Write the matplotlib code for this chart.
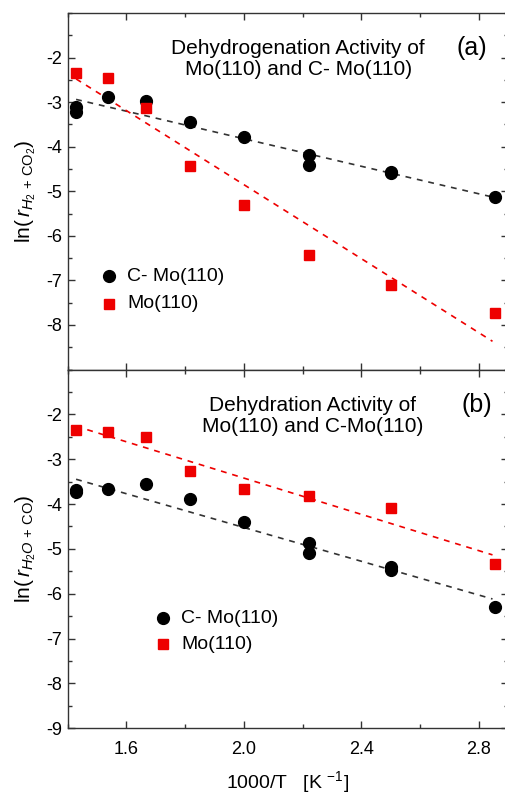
import numpy as np
import matplotlib
matplotlib.use("Agg")
import matplotlib.pyplot as plt
from matplotlib.ticker import MultipleLocator, FixedLocator

plt.rcParams['font.family'] = ['Liberation Sans', 'DejaVu Sans']
plt.rcParams['mathtext.fontset'] = 'custom'
plt.rcParams['mathtext.rm'] = 'Liberation Sans'
plt.rcParams['mathtext.it'] = 'Liberation Sans:italic'
plt.rcParams['axes.unicode_minus'] = False

# temperatures 700..350 K -> 1000/T
# (a) dehydrogenation
x_cmo_a = [1.4286, 1.4286, 1.5385, 1.6667, 1.8182, 2.0, 2.2222, 2.2222, 2.5, 2.5, 2.8571]
y_cmo_a = [-3.12, -3.22, -2.885, -2.975, -3.447, -3.78, -4.195, -4.41, -4.57, -4.60, -5.12]
x_mo_a = [1.4286, 1.5385, 1.6667, 1.8182, 2.0, 2.2222, 2.5, 2.8571]
y_mo_a = [-2.345, -2.465, -3.125, -4.435, -5.30, -6.44, -7.10, -7.73]

# (b) dehydration
x_cmo_b = [1.4286, 1.4286, 1.5385, 1.6667, 1.8182, 2.0, 2.2222, 2.2222, 2.5, 2.5, 2.8571]
y_cmo_b = [-3.68, -3.74, -3.675, -3.55, -3.89, -4.40, -4.87, -5.10, -5.41, -5.48, -6.30]
x_mo_b = [1.4286, 1.5385, 1.6667, 1.8182, 2.0, 2.2222, 2.5, 2.8571]
y_mo_b = [-2.36, -2.40, -2.50, -3.26, -3.67, -3.82, -4.09, -5.33]

RED = '#ee0000'

fig = plt.figure(figsize=(5.06, 7.96), dpi=100)
left, right = 0.1338, 1.004
ax_a = fig.add_axes([left, 0.5358, right - left, 0.9837 - 0.5358])
ax_b = fig.add_axes([left, 0.0851, right - left, 0.5358 - 0.0851])


def fit_line(ax, x, y, color):
    k, b = np.polyfit(x, y, 1)
    xs = np.array([min(x), max(x) - 0.01])
    ax.plot(xs, k * xs + b, ls=(0, (3.5, 3.5)), color=color, lw=1.2, zorder=1)


def style(ax, labels_x):
    ax.set_xlim(1.4, 2.9)
    ax.set_ylim(-9, -1)
    ax.xaxis.set_major_locator(FixedLocator([1.6, 2.0, 2.4, 2.8]))
    ax.xaxis.set_minor_locator(MultipleLocator(0.2))
    ax.yaxis.set_major_locator(MultipleLocator(1))
    ax.yaxis.set_minor_locator(MultipleLocator(0.5))
    ax.tick_params(which='both', direction='in', top=True, right=True,
                   color='#333333', width=1.0)
    ax.tick_params(which='major', length=5, labelsize=13, pad=4)
    ax.tick_params(axis='x', which='major', pad=9)
    ax.tick_params(which='minor', length=3)
    ax.tick_params(axis='x', labelbottom=labels_x)
    for s in ax.spines.values():
        s.set_color('#333333')
        s.set_linewidth(1.0)


def legend_marks(ax, x, y_circ, y_sq):
    ax.plot([x], [y_circ], 'o', color='black', ms=8.5)
    ax.plot([x], [y_sq], 's', color=RED, ms=7)
    ax.text(x + 0.062, y_circ, 'C- Mo(110)', va='center', fontsize=14)
    ax.text(x + 0.062, y_sq, 'Mo(110)', va='center', fontsize=14)


# panel (a)
fit_line(ax_a, x_cmo_a, y_cmo_a, '#333333')
fit_line(ax_a, x_mo_a, y_mo_a, RED)
ax_a.plot(x_cmo_a, y_cmo_a, 'o', color='black', ms=8.5, zorder=3)
ax_a.plot(x_mo_a, y_mo_a, 's', color=RED, ms=7, zorder=3)
style(ax_a, False)
ax_a.set_yticks([-8, -7, -6, -5, -4, -3, -2])
ax_a.set_ylabel(r'ln$(\,r_{H_2\,+\,\mathrm{CO}_2})$', fontsize=15, labelpad=6)
ax_a.text(2.185, -2.03, 'Dehydrogenation Activity of\nMo(110) and C- Mo(110)',
          ha='center', va='center', fontsize=15, linespacing=1.1)
ax_a.text(2.778, -1.79, '(a)', ha='center', va='center', fontsize=18)
legend_marks(ax_a, 1.541, -6.91, -7.52)

# panel (b)
fit_line(ax_b, x_cmo_b, y_cmo_b, '#333333')
fit_line(ax_b, x_mo_b, y_mo_b, RED)
ax_b.plot(x_cmo_b, y_cmo_b, 'o', color='black', ms=8.5, zorder=3)
ax_b.plot(x_mo_b, y_mo_b, 's', color=RED, ms=7, zorder=3)
style(ax_b, True)
ax_b.set_yticks([-9, -8, -7, -6, -5, -4, -3, -2])
ax_b.set_ylabel(r'ln$(\,r_{H_2O\,+\,\mathrm{CO}})$', fontsize=15, labelpad=6)
ax_b.set_xlabel(r'1000/T   [K $^{-1}$]', fontsize=14, labelpad=8)
ax_b.text(2.233, -2.04, 'Dehydration Activity of\nMo(110) and C-Mo(110)',
          ha='center', va='center', fontsize=15, linespacing=1.1)
ax_b.text(2.795, -1.79, '(b)', ha='center', va='center', fontsize=18)
legend_marks(ax_b, 1.725, -6.545, -7.13)

fig.savefig('out.png', dpi=100)
